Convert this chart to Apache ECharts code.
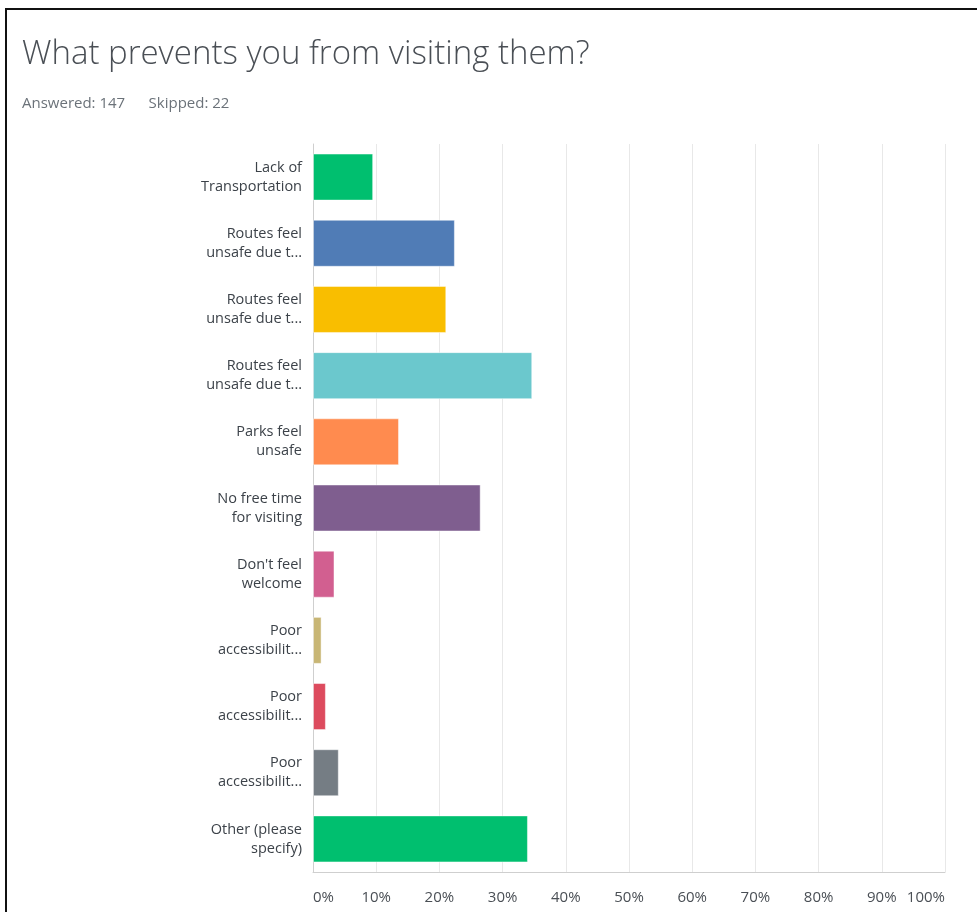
<!DOCTYPE html>
<html>
<head>
<meta charset="utf-8">
<script src="https://cdn.jsdelivr.net/npm/echarts@6/dist/echarts.min.js"></script>
<style>
  html, body { margin: 0; padding: 0; background: #fff; }
  #frame { position: absolute; left: 5px; top: 8px; width: 980px; height: 910px;
           border-left: 2px solid #111; border-top: 2px solid #111; }
  #chart { position: absolute; left: 0; top: 0; width: 977px; height: 912px; }
</style>
</head>
<body>
<div id="frame"></div>
<div id="chart"></div>
<script>
  // answer choices (labels are truncated the way the survey tool shows them)
  var categories = [
    'Lack of\nTransportation',
    'Routes feel\nunsafe due t...',
    'Routes feel\nunsafe due t...',
    'Routes feel\nunsafe due t...',
    'Parks feel\nunsafe',
    'No free time\nfor visiting',
    "Don't feel\nwelcome",
    'Poor\naccessibilit...',
    'Poor\naccessibilit...',
    'Poor\naccessibilit...',
    'Other (please\nspecify)'
  ]
  // percent of 147 respondents
  var percents = [9.52, 22.45, 21.09, 34.69, 13.61, 26.53, 3.40, 1.36, 2.04, 4.08, 34.01]
  var barColors = ['#00bf6f', '#507cb6', '#f9be00', '#6bc8cd', '#ff8b4f', '#7f5e8f',
                   '#d25f90', '#c8b675', '#dd4b5e', '#757d84', '#00bf6f']
  var answered = 147
  var skipped = 22

  var chart = echarts.init(document.getElementById('chart'))
  chart.setOption({
    animation: false,
    title: [{
      text: 'What prevents you from visiting them?',
      left: 22,
      top: 38,
      padding: 0,
      textStyle: { fontFamily: 'Open Sans', fontWeight: 300, fontSize: 33, color: '#4a4f55' }
    }, {
      text: 'Answered: ' + answered + '      Skipped: ' + skipped,
      left: 22,
      top: 96,
      padding: 0,
      textStyle: { fontFamily: 'Open Sans', fontWeight: 'normal', fontSize: 15, color: '#6b7279' }
    }],
    grid: {
      left: 313,
      right: 32,
      top: 144,
      bottom: 40
    },
    xAxis: {
      type: 'value',
      min: 0,
      max: 100,
      interval: 10,
      axisLine: { show: true, lineStyle: { color: '#cfcfcf' } },
      axisTick: { show: false },
      splitLine: { lineStyle: { color: '#e8e8e8' } },
      axisLabel: {
        margin: 18,
        formatter: '{value}%',
        alignMinLabel: 'left',
        alignMaxLabel: 'right',
        fontFamily: 'Open Sans',
        fontSize: 15,
        color: '#4a4f55'
      }
    },
    yAxis: {
      type: 'category',
      inverse: true,
      data: categories,
      axisLine: { show: true, lineStyle: { color: '#cfcfcf' } },
      axisTick: { show: false },
      axisLabel: {
        margin: 11,
        fontFamily: 'Open Sans',
        fontSize: 14.5,
        lineHeight: 19,
        color: '#3c4249'
      }
    },
    series: [{
      type: 'bar',
      barWidth: 47,
      data: percents.map(function (v, i) {
        return { value: v, itemStyle: { color: barColors[i], borderColor: 'rgba(255,255,255,0.45)', borderWidth: 1 } }
      })
    }]
  })
</script>
</body>
</html>
